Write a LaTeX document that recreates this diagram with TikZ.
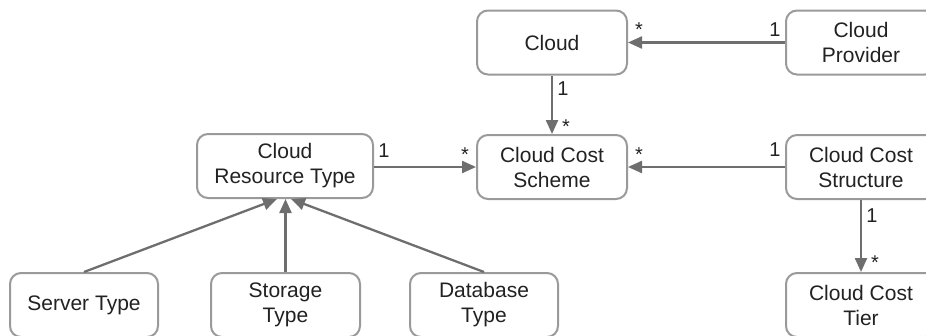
\documentclass[tikz,border=0pt]{standalone}
\usepackage{fontspec}
\setmainfont{Liberation Sans}
\usetikzlibrary{arrows.meta,calc}
\definecolor{boxline}{HTML}{9A9A9A}
\definecolor{linkline}{HTML}{6E6E6E}
\definecolor{inktext}{HTML}{222222}
\tikzset{
  classbox/.style={draw=boxline, line width=2pt, rounded corners=11pt, fill=white,
    minimum width=150pt, minimum height=64pt, align=center, inner sep=2pt,
    text=inktext, font=\fontsize{21}{25}\selectfont},
  assoc/.style={draw=linkline, line width=2.3pt,
    -{Triangle[length=14pt,width=12pt]}},
  mult/.style={anchor=base, inner sep=0pt, text=inktext,
    font=\fontsize{20}{24}\selectfont}
}
\begin{document}
\begin{tikzpicture}[x=1pt,y=-1pt]
\useasboundingbox (0,0) rectangle (926,335);
\clip (0,0) rectangle (926,335);

% classes
\node[classbox] (cloud) at (552,42.5) {Cloud};
\node[classbox] (provider) at (861,42.5) {Cloud\\Provider};
\node[classbox] (scheme) at (552,167) {Cloud Cost\\Scheme};
\node[classbox, minimum width=176pt] (resource) at (285,166) {Cloud\\Resource Type};
\node[classbox] (structure) at (861,167) {Cloud Cost\\Structure};
\node[classbox] (tier) at (861,305) {Cloud Cost\\Tier};
\node[classbox, minimum width=148pt] (server) at (84,305) {Server Type};
\node[classbox, minimum width=149pt] (storage) at (285.5,305) {Storage\\Type};
\node[classbox, minimum width=148pt] (database) at (484,305) {Database\\Type};

% associations
\draw[assoc] (provider) -- (cloud);
\draw[assoc] (cloud) -- (scheme);
\draw[assoc] (resource.east |- scheme.west) -- (scheme.west);
\draw[assoc] (structure) -- (scheme);
\draw[assoc] (structure) -- (tier);

% generalisations
\draw[assoc] (server.north) -- ([xshift=-8pt]resource.south);
\draw[assoc] (storage.north) -- (resource.south -| storage.north);
\draw[assoc] (database.north) -- ([xshift=6pt]resource.south);

% multiplicities
\node[mult] (m1) at (775,36) {1};
\node[mult] (m2) at (639,36.6) {*};
\node[mult] (m3) at (563,95) {1};
\node[mult] (m4) at (566,133.5) {*};
\node[mult] (m5) at (384,157) {1};
\node[mult] (m6) at (465,161.6) {*};
\node[mult] (m7) at (775,156) {1};
\node[mult] (m8) at (639,161.6) {*};
\node[mult] (m9) at (872,222) {1};
\node[mult] (m10) at (875,269.6) {*};
\end{tikzpicture}
\end{document}
